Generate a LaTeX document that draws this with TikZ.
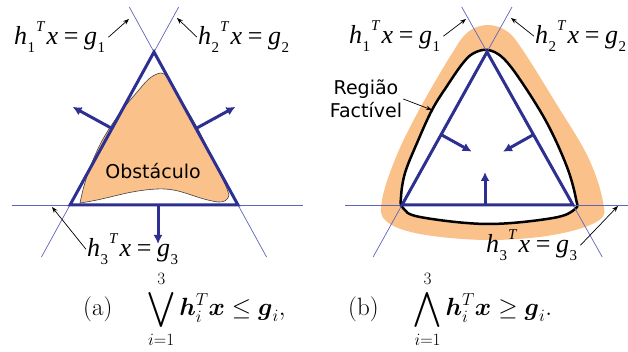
\documentclass[tikz,border=0pt]{standalone}
\usepackage{amsmath, amssymb}
\usepackage{fontspec}
\newfontfamily\sansdv{DejaVu Sans}
\newfontfamily\seriflb{Liberation Serif}
\usepackage{tikz}
\usetikzlibrary{arrows.meta, calc}
\definecolor{triblue}{RGB}{45,48,145}
\definecolor{guideblue}{RGB}{95,100,185}
\definecolor{obstorange}{RGB}{250,194,138}
% h_i^T x = g_i in a Times-like face
\newcommand{\smallidx}[1]{{\fontsize{15}{15}\selectfont #1}}
\newcommand{\planeeq}[1]{{\seriflb\itshape h\kern0.5pt\raisebox{-0.28em}{\smallidx{\upshape #1}}\kern1pt\raisebox{0.5em}{\smallidx{T}}\kern2pt x\kern0.22em{\upshape=}\kern0.22em g\kern0.5pt\raisebox{-0.28em}{\smallidx{\upshape #1}}}}

\begin{document}
\begin{tikzpicture}[
    x=1pt, y=1pt,
    tri/.style={triblue, line width=3pt, line join=miter},
    guide/.style={guideblue, line width=0.7pt},
    normal/.style={triblue, line width=3pt, -{Latex[length=9pt, width=9pt]}},
    ptr/.style={black, line width=0.7pt, -{Stealth[length=6pt, width=4.5pt]}},
    obstacle/.style={fill=obstorange, draw=black!75, line width=0.6pt},
    lbl/.style={inner sep=1pt, font=\fontsize{26}{30}\selectfont},
    txt/.style={inner sep=1pt, align=center, font=\sansdv\fontsize{19}{23}\selectfont},
    captext/.style={inner sep=0pt, font=\fontsize{25}{30}\selectfont}
]
\useasboundingbox (0,0) rectangle (628,352);

% (a) Obstacle inside the triangle
\coordinate (T1) at (154,300);
\coordinate (BL1) at (70,147);
\coordinate (BR1) at (238,147);

\draw[obstacle] (80,149) to[out=8, in=183] (157,163) to[out=3, in=172] (218,150)
    to[out=-8, in=-95] (229,157)
    -- plot[smooth, tension=0.6] coordinates {(229,157) (225,168) (213,192) (200,219)
    (187,242) (173,264) (167,275) (161,279) (150,274) (138,261) (120,239) (103,213)
    (91,187) (84,166) (80,149)} -- cycle;
\node[txt] (obst) at (153,181) {Obstáculo};

% Guide lines
\draw[guide] ($(T1)!-0.294!(BL1)$) -- ($(T1)!1.34!(BL1)$);
\draw[guide] ($(T1)!-0.294!(BR1)$) -- ($(T1)!1.34!(BR1)$);
\draw[guide] ($(BL1)+(-58,0)$) -- ($(BR1)+(65,0)$);

\draw[tri] (T1) -- (BL1) -- (BR1) -- cycle;

% Outward normals
\coordinate (m1) at ($(T1)!0.5!(BL1)$);
\coordinate (m2) at ($(T1)!0.5!(BR1)$);
\coordinate (m3) at (158,147);
\draw[normal] (m1) -- ($(m1)!45pt!90:(T1)$);
\draw[normal] (m2) -- ($(m2)!45pt!-90:(T1)$);
\draw[normal] (m3) -- ++(0,-39);

% Labels
\node[lbl, anchor=base west] (h1a) at (13,307) {\planeeq{1}};
\node[lbl, anchor=base west] (h2a) at (197,307) {\planeeq{2}};
\node[lbl, anchor=base west] (h3a) at (86,95) {\planeeq{3}};
\coordinate (p1a) at (129,333);
\coordinate (p2a) at (177,334);
\coordinate (p3a) at (52,145);
\draw[ptr] ([xshift=2pt]h1a.east) -- (p1a);
\draw[ptr] (h2a.west) -- (p2a);
\draw[ptr] (h3a.west) -- (p3a);

% (b) Feasible region around the triangle
\coordinate (T2) at (487,300);
\coordinate (BL2) at (402,147);
\coordinate (BR2) at (573,147);

\fill[obstorange] plot[smooth cycle, tension=0.6] coordinates {(488,327) (508,320)
    (524,300) (554,252) (588,195) (603,150) (598,131) (553,117) (487,112) (420,118)
    (386,131) (382,152) (396,195) (419,242) (451,297) (468,320)};
\draw[black, line width=2.5pt, fill=white] plot[smooth cycle, tension=0.6] coordinates {
    (488,302) (503,294) (521,271) (547,229) (567,185) (576,153) (575,143) (553,134)
    (487,128) (420,135) (403,144) (401,155) (405,179) (417,209) (432,242) (447,266)
    (463,289) (474,299)};

\draw[guide] ($(T2)!-0.294!(BL2)$) -- ($(T2)!1.34!(BL2)$);
\draw[guide] ($(T2)!-0.294!(BR2)$) -- ($(T2)!1.34!(BR2)$);
\draw[guide] ($(BL2)+(-57,0)$) -- ($(BR2)+(55,0)$);

\draw[tri] (T2) -- (BL2) -- (BR2) -- cycle;

% Inward normals
\coordinate (n1) at ($(BL2)!0.46!(T2)$);
\coordinate (n2) at ($(BR2)!0.46!(T2)$);
\coordinate (n3) at (485,147);
\draw[normal] (n1) -- ($(n1)!35pt!-90:(T2)$);
\draw[normal] (n2) -- ($(n2)!35pt!90:(T2)$);
\draw[normal] (n3) -- ++(0,33);

% Labels
\node[txt] (regiao) at (366,253) {Região\\Factível};
\coordinate (pr) at (432,242);
\draw[ptr] (regiao.east) -- (pr);

\node[lbl, anchor=base west] (h1b) at (348,308) {\planeeq{1}};
\node[lbl, anchor=base west] (h2b) at (534,308) {\planeeq{2}};
\node[lbl, anchor=base west] (h3b) at (485,99) {\planeeq{3}};
\coordinate (p1b) at (466,333);
\coordinate (p2b) at (511,334);
\coordinate (p3b) at (618,146);
\draw[ptr] ([xshift=2pt]h1b.east) -- (p1b);
\draw[ptr] (h2b.west) -- (p2b);
\draw[ptr] ([xshift=2pt]h3b.east) -- (p3b);

% Captions
\node[captext, anchor=base west] (capa) at (83,36)
    {(a)\hspace{1.4em}$\displaystyle\bigvee_{i=1}^{3}\boldsymbol{h}_i^T\boldsymbol{x}\le\boldsymbol{g}_i,$};
\node[captext, anchor=base west] (capb) at (348,36)
    {(b)\hspace{1.4em}$\displaystyle\bigwedge_{i=1}^{3}\boldsymbol{h}_i^T\boldsymbol{x}\ge\boldsymbol{g}_i.$};

\end{tikzpicture}
\end{document}
